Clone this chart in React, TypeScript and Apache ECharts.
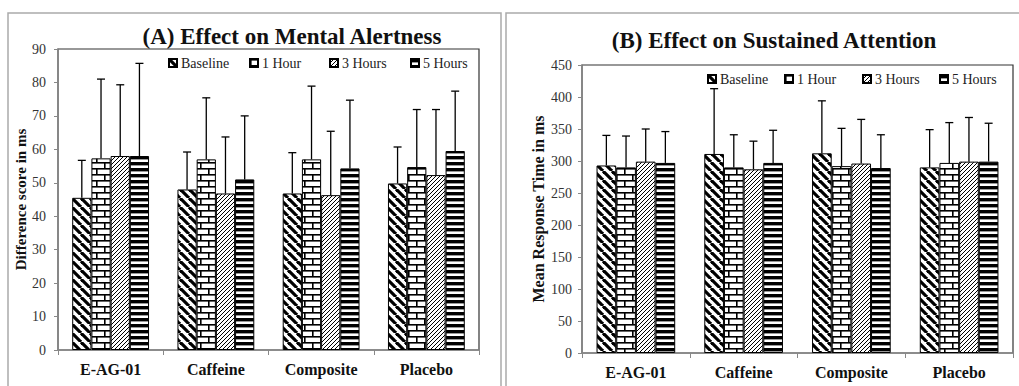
import React, { useEffect, useRef } from "react";
import * as echarts from "echarts";

const categories = ["E-AG-01", "Caffeine", "Composite", "Placebo"];
const seriesNames = ["Baseline", "1 Hour", "3 Hours", "5 Hours"];

// (A) Mental alertness: means and SD
const alertBaseline = [45.5, 48.0, 46.8, 49.8];
const alert1Hour = [57.3, 57.0, 57.0, 54.7];
const alert3Hours = [58.0, 46.8, 46.3, 52.3];
const alert5Hours = [58.0, 51.0, 54.3, 59.5];
const alertSdBaseline = [11.2, 11.2, 12.2, 10.9];
const alertSd1Hour = [23.7, 18.4, 21.9, 17.2];
const alertSd3Hours = [21.3, 16.9, 19.1, 19.6];
const alertSd5Hours = [27.7, 19.0, 20.4, 17.9];

// (B) Sustained attention: means and SD
const attnBaseline = [293, 311, 312, 290];
const attn1Hour = [290, 290, 292, 297];
const attn3Hours = [299, 287, 296, 299];
const attn5Hours = [297, 297, 289, 299];
const attnSdBaseline = [47, 102, 82, 59];
const attnSd1Hour = [49, 51, 59, 63];
const attnSd3Hours = [51, 44, 69, 69];
const attnSd5Hours = [49, 51, 52, 60];

const alertTicks = { min: 0, max: 90, interval: 10 };
const attnTicks = { min: 0, max: 450, interval: 50 };

const FONT = "'Liberation Serif', 'Times New Roman', serif";
const GAP = 0.27;

function makePattern(kind: string) {
  const c = document.createElement("canvas");
  let w = 8, h = 8;
  if (kind === "back") { w = 9; h = 9; }
  if (kind === "fwd") { w = 4; h = 4; }
  if (kind === "brick") { w = 16; h = 12; }
  if (kind === "hstripe") { w = 6; h = 6; }
  c.width = w; c.height = h;
  const ctx = c.getContext("2d")!;
  ctx.fillStyle = "#fff";
  ctx.fillRect(0, 0, w, h);
  ctx.fillStyle = "#000";
  ctx.strokeStyle = "#000";
  if (kind === "back") {
    ctx.lineWidth = 3.2;
    for (const o of [-w, 0, w]) {
      ctx.beginPath();
      ctx.moveTo(o, 0);
      ctx.lineTo(o + w, h);
      ctx.stroke();
    }
  } else if (kind === "fwd") {
    ctx.lineWidth = 1;
    for (const o of [-w, 0, w]) {
      ctx.beginPath();
      ctx.moveTo(o, h);
      ctx.lineTo(o + w, 0);
      ctx.stroke();
    }
  } else if (kind === "brick") {
    ctx.fillRect(0, 0, w, 1.6);
    ctx.fillRect(0, 6, w, 1.6);
    ctx.fillRect(0, 0, 1.6, 6);
    ctx.fillRect(8, 6, 1.6, 6);
  } else if (kind === "hstripe") {
    ctx.fillRect(0, 0, w, 3.4);
  }
  return { image: c, repeat: "repeat", imageWidth: w, imageHeight: h } as any;
}

export default function App() {
  const ref = useRef<HTMLDivElement>(null);
  useEffect(() => {
    if (!ref.current) return;
    const chart = echarts.init(ref.current, undefined, { renderer: "svg" });
    const patterns = [makePattern("back"), makePattern("brick"), makePattern("fwd"), makePattern("hstripe")];
    const alertMeans = [alertBaseline, alert1Hour, alert3Hours, alert5Hours];
    const alertSds = [alertSdBaseline, alertSd1Hour, alertSd3Hours, alertSd5Hours];
    const attnMeans = [attnBaseline, attn1Hour, attn3Hours, attn5Hours];
    const attnSds = [attnSdBaseline, attnSd1Hour, attnSd3Hours, attnSd5Hours];

    const series: any[] = [];
    const addChart = (means: number[][], sds: number[][], idx: number) => {
      means.forEach((m, si) => {
        series.push({
          type: "bar",
          name: seriesNames[si],
          xAxisIndex: idx,
          yAxisIndex: idx,
          data: m,
          barGap: "0%",
          barCategoryGap: GAP * 100 + "%",
          itemStyle: { color: patterns[si], borderColor: "#000", borderWidth: 1 },
          z: 2,
        });
      });
      means.forEach((m, si) => {
        series.push({
          type: "custom",
          name: "err" + idx + "-" + si,
          xAxisIndex: idx,
          yAxisIndex: idx,
          z: 3,
          data: m.map((v, ci) => [ci, v, v + sds[si][ci]]),
          renderItem: (params: any, api: any) => {
            const ci = api.value(0);
            const base = api.coord([ci, api.value(1)]);
            const top = api.coord([ci, api.value(2)]);
            const band = api.size([1, 0])[0];
            const groupW = band * (1 - GAP);
            const bw = groupW / 4;
            const x = base[0] - groupW / 2 + (si + 0.5) * bw;
            const st = { stroke: "#000", lineWidth: 1.3 };
            return {
              type: "group",
              children: [
                { type: "line", shape: { x1: x, y1: base[1], x2: x, y2: top[1] }, style: st },
                { type: "line", shape: { x1: x - 4, y1: top[1], x2: x + 4, y2: top[1] }, style: st },
              ],
            };
          },
        });
      });
    };
    addChart(alertMeans, alertSds, 0);
    addChart(attnMeans, attnSds, 1);

    const legendPos = [
      { left: [168, 249, 329, 410], top: 56 },
      { left: [707, 784, 862, 939], top: 72 },
    ];
    const legends: any[] = [];
    legendPos.forEach((lp) => {
      seriesNames.forEach((n, i) => {
        legends.push({
          data: [n],
          left: lp.left[i],
          top: lp.top,
          icon: "rect",
          itemWidth: 8,
          itemHeight: 8,
          itemGap: 4,
          padding: 0,
          selectedMode: false,
          textStyle: { fontFamily: FONT, fontSize: 14, color: "#222", padding: [0, 0, 0, -1] },
        });
      });
    });

    const xAxisCommon = (gi: number) => ({
      type: "category",
      gridIndex: gi,
      data: categories,
      axisLine: { lineStyle: { color: "#888", width: 1.5 } },
      axisTick: { show: true, length: 5, lineStyle: { color: "#888" } },
      axisLabel: { fontFamily: FONT, fontSize: 16, fontWeight: "bold", color: "#111", margin: 11 },
    });
    const yAxisCommon = (gi: number, t: any, name: string, gap: number, lm: number, nfs: number) => ({
      type: "value",
      gridIndex: gi,
      min: t.min,
      max: t.max,
      interval: t.interval,
      name,
      nameLocation: "middle",
      nameGap: gap,
      nameTextStyle: { fontFamily: FONT, fontSize: nfs, fontWeight: "bold", color: "#111" },
      axisLine: { show: true, lineStyle: { color: "#888", width: 1.5 } },
      axisTick: { show: true, length: 4, lineStyle: { color: "#888" } },
      splitLine: { show: false },
      axisLabel: { fontFamily: FONT, fontSize: 14, color: "#333", margin: lm },
    });

    chart.setOption({
      animation: false,
      backgroundColor: "#fff",
      title: [
        { text: "(A) Effect on Mental Alertness", left: 287, top: 20, textAlign: "center",
          textStyle: { fontFamily: FONT, fontSize: 23, fontWeight: "bold", color: "#111" } },
        { text: "(B) Effect on Sustained Attention", left: 769, top: 24, textAlign: "center",
          textStyle: { fontFamily: FONT, fontSize: 23, fontWeight: "bold", color: "#111" } },
      ],
      legend: legends,
      grid: [
        { left: 58, top: 49, right: 540, bottom: 36, show: true, borderColor: "#333", borderWidth: 1.2 },
        { left: 582, top: 65, right: 6, bottom: 33, show: true, borderColor: "#333", borderWidth: 1.2 },
      ],
      xAxis: [xAxisCommon(0), xAxisCommon(1)],
      yAxis: [
        yAxisCommon(0, alertTicks, "Difference score in ms", 28, 12, 15),
        yAxisCommon(1, attnTicks, "Mean Response Time in ms", 36, 10, 16),
      ],
      graphic: [
        { type: "rect", shape: { x: 8, y: 13, width: 493, height: 420 }, style: { fill: "none", stroke: "#aaa", lineWidth: 1.5 }, z: 0, silent: true },
        { type: "rect", shape: { x: 506, y: 13, width: 540, height: 420 }, style: { fill: "none", stroke: "#aaa", lineWidth: 1.5 }, z: 0, silent: true },
      ],
      series,
    });
    return () => chart.dispose();
  }, []);
  return <div ref={ref} style={{ position: "fixed", left: 0, top: 0, width: 1019, height: 386 }} />;
}
